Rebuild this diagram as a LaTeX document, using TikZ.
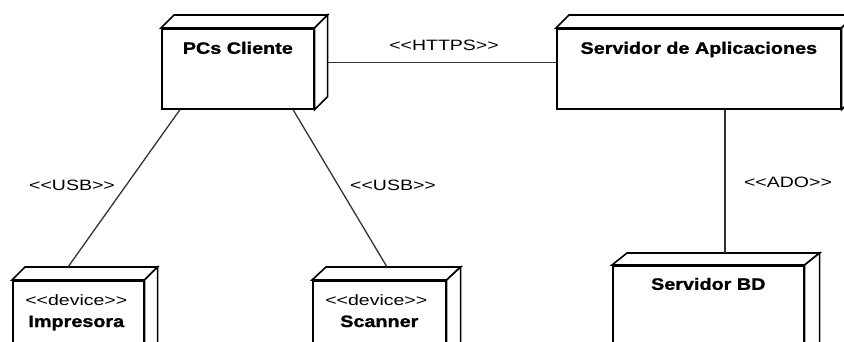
\documentclass[tikz,border=0pt]{standalone}
\usepackage{fontspec}
\setmainfont{Liberation Sans}
\newfontfamily\namefont[FakeStretch=1.2,FakeBold=1.2]{Liberation Sans}
\newfontfamily\stereofont[FakeStretch=1.3]{Liberation Sans}
\usetikzlibrary{calc}

\tikzset{
  nodebox/.style={rectangle, draw=black, line width=1.6pt, fill=white,
    inner sep=0pt, anchor=north west, line join=miter},
  face/.style={draw=black, line width=1.6pt, fill=white, line join=miter},
  boxname/.style={font=\namefont\bfseries\fontsize{16.5}{18}\selectfont},
  stereo/.style={font=\stereofont\fontsize{15}{17}\selectfont, anchor=base, inner sep=0pt},
  devname/.style={font=\namefont\bfseries\fontsize{16.5}{18}\selectfont, anchor=base, inner sep=0pt},
  link/.style={draw=black!80, line width=1.3pt},
  linklabel/.style={font=\stereofont\fontsize{15}{17}\selectfont, inner sep=0pt}
}

\begin{document}
\begin{tikzpicture}[x=1pt, y=-1pt]
\useasboundingbox (0,0) rectangle (844,341);
\clip (0,0) rectangle (844,341);

% front faces of the deployment nodes
\node[nodebox, boxname, minimum width=152pt, text height=25pt, text depth=55pt]
  (pc) at (161,28) {PCs Cliente};
\node[nodebox, boxname, minimum width=284pt, text height=25pt, text depth=55pt]
  (app) at (556,28) {Servidor de Aplicaciones};
\node[nodebox, boxname, minimum width=191pt, text height=24pt, text depth=76pt]
  (bd) at (612,265) {Servidor BD};
\node[nodebox, minimum width=131pt, minimum height=90pt] (imp) at (12,280) {};
\node[nodebox, minimum width=133pt, minimum height=90pt] (scn) at (312,280) {};

% top and side faces giving each node its depth
\foreach \n/\dx/\dy in {pc/13/13, app/13/13, bd/15/12, imp/13/13, scn/14/13} {
  \draw[face] (\n.north west) -- ++(\dx pt,\dy pt)
    -- ([shift={(\dx pt,\dy pt)}]\n.north east) -- (\n.north east) -- cycle;
  \draw[face] (\n.north east) -- ++(\dx pt,\dy pt)
    -- ([shift={(\dx pt,\dy pt)}]\n.south east) -- (\n.south east) -- cycle;
}

% device texts
\node[stereo] (impst) at ([yshift=-25pt,xshift=-2pt]imp.north) {<<device>>};
\node[devname] (impnm) at ([yshift=-47pt,xshift=-2pt]imp.north) {Impresora};
\node[stereo] (scnst) at ([yshift=-25pt,xshift=-3pt]scn.north) {<<device>>};
\node[devname] (scnnm) at ([yshift=-47pt]scn.north) {Scanner};

% communication paths
\draw[link] ([xshift=13pt,yshift=6pt]pc.east) -- ([yshift=6pt]app.west);
\draw[link] ([xshift=19pt]pc.south west) -- ([shift={(56pt,13pt)}]imp.north west);
\draw[link] ([xshift=132pt]pc.south west) -- ([shift={(75pt,13pt)}]scn.north west);
\draw[link] ([xshift=169pt]app.south west) -- ([shift={(113pt,12pt)}]bd.north west);

% path stereotypes
\node[linklabel] (https) at (444,45) {<<HTTPS>>};
\node[linklabel] (usb1) at (72,185) {<<USB>>};
\node[linklabel] (usb2) at (393,185) {<<USB>>};
\node[linklabel] (ado) at (788,182) {<<ADO>>};
\end{tikzpicture}
\end{document}
